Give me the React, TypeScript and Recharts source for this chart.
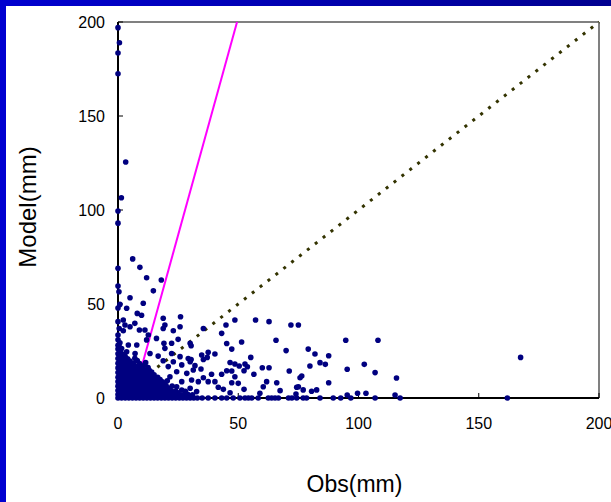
import { ScatterChart, Scatter, XAxis, YAxis, ReferenceLine } from "recharts";

// [obs, model] pairs
const upperPoints: [number, number][] = [
  [0, 197], [0.6, 189], [0, 183.5], [0, 172.5], [3.2, 125.5], [1.4, 106.5], [0, 99.5], [0, 93],
  [6.1, 74], [9.1, 69.5], [0, 69], [11.9, 64], [18, 62.8], [0, 59.6], [14.7, 57], [0.4, 56.5],
  [5, 53.3], [10.5, 50.4], [0.8, 49.8], [0, 47.9], [3.6, 47.7], [8, 45], [9.8, 44], [26, 43.2],
  [18.8, 42.4], [2.2, 41.5], [0, 40.6], [7, 39.7], [2.9, 38.8], [19.5, 38.8], [5, 37.9], [25.8, 37.9],
  [18.8, 37], [0.5, 37], [2.2, 35.8], [8.9, 36.2], [11.2, 36.2], [23, 35.8], [0, 33.5], [12.6, 33.5],
  [16, 31.7], [25, 31.2],
];

const nearPoints: [number, number][] = [
  [0.8, 29.4], [4.3, 28.2], [7.8, 28.2], [11.9, 30.9], [19.1, 29.1], [22.3, 29.1], [30, 29.1],
  [19.5, 26.4], [13.3, 23.7], [7.1, 23.7], [3.6, 24.6], [16.7, 22.3], [22.3, 23.7], [25.8, 22],
  [29.2, 21], [18.8, 19.8], [23, 19.3], [30, 19.3], [26.5, 17.6], [20.9, 16.7], [31.3, 14.9],
  [24.4, 14], [28.6, 13.1], [21.6, 11.3], [30.6, 9.6], [26.5, 8.7], [33.4, 8.7], [24.4, 6],
  [30, 5.2], [32.7, 3.4],
];

const midPoints: [number, number][] = [
  [48.6, 41.5], [57.2, 41.5], [62.8, 40.6], [71.9, 38.8], [75, 38.8], [44.9, 38.8], [35.5, 37],
  [43.1, 34.4], [65.7, 30.7], [51.4, 29.8], [45.2, 29], [30.4, 27.8], [47.3, 26], [69.9, 25.2],
  [37.5, 24.3], [40.3, 23.4], [34.8, 22.9], [37.1, 21.6], [30.4, 20.5], [35.5, 20.5], [55.2, 21.6],
  [46.6, 18.9], [48.6, 18.1], [50.4, 17], [52.8, 18.1], [53.8, 16.6], [32, 17.2], [34.5, 15.4],
  [60, 16.1], [62.8, 16.1], [71.2, 14.4], [47.3, 14.4], [45.2, 14.5], [52.4, 14.5], [38.9, 12.6],
  [43.1, 12.6], [56.5, 12.6], [48.6, 11.3], [35.5, 10.8], [75.7, 10.8], [37.5, 8.7], [40.3, 8.7],
  [61.8, 8.7], [47.3, 8.1], [66, 8.1], [50, 7.8], [60.4, 6], [41.7, 5.7], [43.8, 4.6], [52.4, 4.6],
  [67.4, 3.9], [74.3, 5.7], [46.6, 2.8], [59, 2.5], [74, 2.1],
  [37.5, 0], [40.3, 0], [43.1, 0], [45.2, 0], [47.9, 0], [50.7, 0], [52.8, 0], [54.2, 0], [55.6, 0],
  [58.3, 0], [62.5, 0], [63.9, 0], [65.3, 0], [66.7, 0], [70.9, 0], [72.3, 0], [74.3, 0],
];

const farPoints: [number, number][] = [
  [94.7, 30.7], [108.1, 30.7], [79.1, 26], [81.9, 23.4], [87.6, 22.5], [84, 18.8], [86.2, 17.9],
  [79.8, 17], [102.4, 17.9], [95.3, 15.3], [106.9, 13.5], [76.4, 11.7], [115.8, 10.6], [87.6, 8.1],
  [75, 6], [77, 4.3], [80.5, 3.6], [82.6, 4.3], [95.3, 1.6], [99.6, 2.5], [103.1, 2.5], [115.2, 1.6],
  [77, 0], [78.4, 0], [84, 0], [89.5, 0], [92.6, 0], [96.8, 0], [106.9, 0], [117.3, 0],
  [167.4, 21.6], [161.9, 0],
];

// the solid blob near the origin
const densePoints: [number, number][] = [
  [0, 0], [1.5, 0], [3, 0], [4.5, 0], [6, 0], [7.5, 0], [9, 0], [10.5, 0], [12, 0], [13.5, 0], [15, 0],
  [16.5, 0], [18, 0], [19.5, 0], [21, 0], [22.5, 0], [24, 0], [25.5, 0], [27, 0], [28.5, 0], [30, 0],
  [31.5, 0], [33, 0], [35, 0],
  [0, 1.8], [1.8, 1.9], [3.6, 1.7], [5.4, 2], [7.2, 1.8], [9, 1.6], [10.8, 2], [12.6, 1.9], [14.4, 1.7],
  [16.2, 2], [18, 1.8], [19.8, 1.9], [21.6, 1.7], [23.4, 2.1], [25.2, 1.8], [27, 1.6], [29, 2], [31, 1.7],
  [0, 4], [2, 4.2], [4, 3.9], [6, 4.1], [8, 4], [10, 4.3], [12, 3.9], [14, 4], [16, 4.2], [18, 3.8],
  [20, 4.1], [22, 4], [24, 3.7], [26.5, 4.2], [28, 3.6],
  [0, 6.3], [2, 6.1], [4, 6.4], [6, 6.2], [8, 6.5], [10, 6.1], [12, 6.3], [14, 6.4], [16, 6], [18, 6.2],
  [20, 6.5], [22.5, 6.4],
  [0, 8.7], [2, 8.9], [4, 8.5], [6, 8.8], [8, 8.6], [10, 9], [12, 8.7], [14, 8.4], [16, 8.9], [18.5, 8.6],
  [20.5, 9.2],
  [0, 11], [2, 11.2], [4, 10.9], [6, 11.1], [8, 11.3], [10, 10.8], [12, 11.1], [14, 11.4], [16.5, 11],
  [0, 13.5], [2, 13.3], [4, 13.6], [6, 13.4], [8, 13.7], [10, 13.3], [12, 13.5], [14, 13.8],
  [0, 16], [2, 16.2], [4, 15.9], [6, 16.1], [8, 16.3], [10, 15.8], [12.5, 16.2],
  [0, 18.5], [2, 18.7], [4, 18.4], [6.5, 18.6], [9, 18.3], [11.5, 18.8],
  [0, 21], [1.5, 21.2], [4, 20.8], [7, 21.1],
  [0, 23.5], [2.5, 23.3], [0, 26], [1.5, 26.3], [0, 28], [0, 31],
];

// more points packed in between, the blob is solid in the picture
const denseFill: [number, number][] = [
  [1, 1], [3, 0.8], [5, 1.1], [7, 0.9], [9, 1], [11, 1.2], [13, 0.8], [15, 1], [17, 1.1], [19, 0.9],
  [21, 1], [23, 0.8], [25, 1.1], [27, 0.9], [29, 1],
  [1, 3], [3, 2.9], [5, 3.1], [7, 3], [9, 2.8], [11, 3.1], [13, 3], [15, 2.9], [17, 3.2], [19, 3],
  [21, 2.9], [23, 3.1], [25, 2.8],
  [1, 5.2], [3, 5.1], [5, 5.3], [7, 5], [9, 5.2], [11, 5.1], [13, 5.3], [15, 5], [17, 5.2], [19, 5.1],
  [21, 5.3],
  [1, 7.5], [3, 7.4], [5, 7.6], [7, 7.3], [9, 7.5], [11, 7.7], [13, 7.4], [15, 7.5], [17, 7.6], [19.5, 7.4],
  [1, 9.9], [3, 10], [5, 9.8], [7, 10.1], [9, 9.9], [11, 10], [13, 9.7], [15, 10.1], [17.5, 9.8],
  [1, 12.3], [3, 12.2], [5, 12.4], [7, 12.1], [9, 12.3], [11, 12.5], [13, 12.2], [15, 12.4],
  [1, 14.8], [3, 14.7], [5, 14.9], [7, 14.6], [9, 14.8], [11, 15], [13, 14.7],
  [1, 17.3], [3, 17.2], [5, 17.4], [7, 17.1], [9, 17.3], [11, 17.5],
  [1, 19.7], [3, 19.8], [5, 19.6], [8, 19.9], [1, 22.3], [3, 22], [1, 24.8], [0.5, 27.2],
];

const fitLine = [{ x: 7, y: 3.4 }, { x: 49.5, y: 200 }];
const oneToOne = [{ x: 0, y: 0 }, { x: 200, y: 200 }];
const xTicks = [0, 50, 100, 150, 200];
const yTicks = [0, 50, 100, 150, 200];

const toXY = (pts: [number, number][]) => pts.map(([x, y]) => ({ x, y }));
const allPoints = toXY([
  ...densePoints, ...denseFill, ...nearPoints, ...upperPoints, ...midPoints, ...farPoints,
]);

const FONT = "'Liberation Sans', Arial, sans-serif";
const dot = (p: any) => <circle cx={p.cx} cy={p.cy} r={2.8} fill="#000080" />;
const none = () => <g />;

export default function App() {
  return (
    <div style={{ position: "relative", width: 611, height: 502, background: "#fff", overflow: "hidden", fontFamily: FONT }}>
      <style>{`body{margin:0}`}</style>
      <div style={{ position: "absolute", left: 0, top: 0, width: 611, height: 6, background: "linear-gradient(90deg,#0000d0,#000090)" }} />
      <div style={{ position: "absolute", left: 0, top: 0, width: 6, height: 502, background: "#0000d0" }} />
      <ScatterChart width={611} height={502} margin={{ top: 22, right: 12, bottom: 0, left: 0 }}>
        <XAxis
          type="number" dataKey="x" domain={[0, 200]} ticks={xTicks} height={104}
          axisLine={{ stroke: "#000", strokeWidth: 2 }} tickLine={{ stroke: "#000" }}
          tickSize={-5} tickMargin={25}
          tick={{ fill: "#000", fontSize: 16, fontFamily: FONT }}
        />
        <YAxis
          type="number" dataKey="y" domain={[0, 200]} ticks={yTicks} width={118}
          axisLine={{ stroke: "#000", strokeWidth: 2 }} tickLine={{ stroke: "#000" }}
          tickSize={-5} tickMargin={18}
          tick={{ fill: "#000", fontSize: 16, fontFamily: FONT }}
        />
        <ReferenceLine y={200} stroke="#808080" strokeWidth={2} />
        <ReferenceLine x={200} stroke="#808080" strokeWidth={2} />
        <Scatter data={oneToOne} line={{ stroke: "#333300", strokeWidth: 3, strokeDasharray: "3 7" }} shape={none} isAnimationActive={false} />
        <Scatter data={fitLine} line={{ stroke: "#ff00ff", strokeWidth: 2 }} shape={none} isAnimationActive={false} />
        <Scatter data={allPoints} shape={dot} isAnimationActive={false} />
      </ScatterChart>
      <div style={{ position: "absolute", left: 0, width: 611, top: 471, textAlign: "center", paddingLeft: 98, boxSizing: "border-box", fontSize: 23, color: "#000" }}>
        Obs(mm)
      </div>
      <div style={{ position: "absolute", left: 28, top: 207, transform: "translate(-50%,-50%) rotate(-90deg)", fontSize: 24, color: "#000", whiteSpace: "nowrap" }}>
        Model(mm)
      </div>
    </div>
  );
}
